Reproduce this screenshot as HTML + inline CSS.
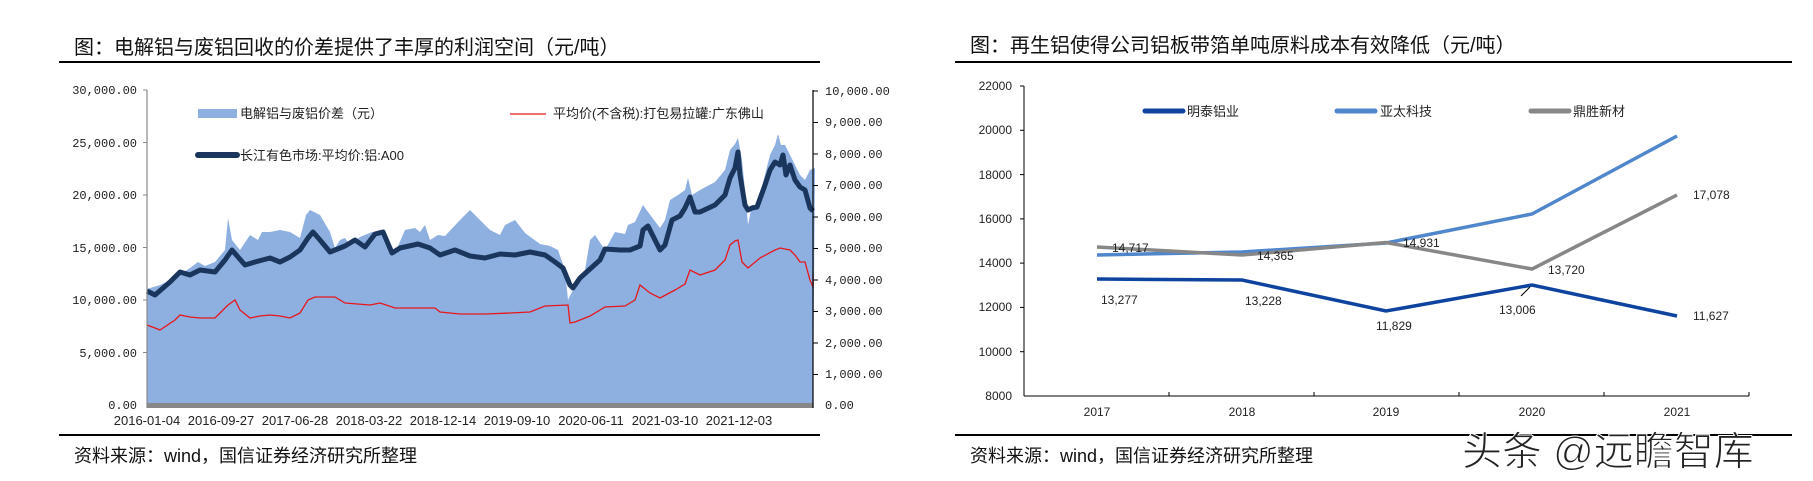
<!DOCTYPE html>
<html><head><meta charset="utf-8"><style>
html,body{margin:0;padding:0;background:#fff;width:1813px;height:481px;overflow:hidden}
svg{display:block}
.cn{font-family:"Liberation Sans","Noto Sans CJK SC",sans-serif}
.mono{font-family:"Liberation Mono","Noto Sans CJK SC",monospace}
</style></head><body>
<svg width="1813" height="481" viewBox="0 0 1813 481" xmlns="http://www.w3.org/2000/svg">
<!-- LEFT -->
<text x="74" y="54" class="cn" font-size="20" fill="#111">图：电解铝与废铝回收的价差提供了丰厚的利润空间（元/吨）</text>
<line x1="59" y1="62" x2="820" y2="62" stroke="#000" stroke-width="2"/>
<line x1="59" y1="435" x2="820" y2="435" stroke="#000" stroke-width="2"/>
<text x="74" y="462" class="cn" font-size="18" fill="#111">资料来源：wind，国信证券经济研究所整理</text>

<polygon fill="#8db0e0" points="147,405 147,289 160,285 175,278 190,268 198,262 205,266 215,262 225,250 228,218 232,240 240,250 250,235 258,240 262,232 270,232 280,230 290,232 300,238 306,215 310,210 320,215 330,232 335,248 340,240 345,238 350,245 360,237 372,232 385,232 395,253 405,230 415,228 420,232 425,225 430,240 438,235 445,236 460,220 470,210 480,220 490,230 500,235 505,225 515,220 525,233 540,244 550,246 558,250 565,270 568,300 572,292 580,275 585,270 590,240 595,235 605,250 615,232 625,234 628,225 635,222 643,205 648,212 660,228 665,220 670,200 678,195 685,190 688,178 692,195 700,190 715,182 725,170 730,150 735,144 738,138 742,160 746,200 748,225 752,205 757,205 765,175 770,155 775,145 778,134 781,145 785,145 790,155 795,165 800,175 805,180 810,170 815,168 813,405"/>
<rect x="147" y="403" width="666" height="5" fill="#888"/>
<polyline fill="none" stroke="#e8161b" stroke-width="1.3" points="147,325 155,328 160,330 175,320 180,315 190,317 200,318 215,318 220,313 228,305 235,300 240,310 250,318 260,316 270,315 280,316 290,318 300,313 308,300 315,297 335,297 345,303 370,305 380,303 395,308 435,308 440,312 460,314 485,314 510,313 530,312 545,306 568,305 570,323 575,322 590,316 605,307 625,306 635,300 640,285 650,293 660,298 675,290 685,284 690,270 700,275 715,270 725,260 730,245 735,241 738,240 742,262 748,268 760,258 775,250 780,248 790,250 795,255 800,262 805,262 810,280 813,287 813,274"/>
<polyline fill="none" stroke="#1a365d" stroke-width="5" stroke-linejoin="round" points="147,291 155,295 170,282 180,272 190,275 200,270 215,272 225,260 232,250 238,257 245,265 255,262 270,258 280,262 290,257 300,250 308,238 313,232 320,240 330,252 345,246 355,240 365,247 375,234 383,232 392,253 400,248 418,244 430,248 440,255 455,250 470,256 485,258 500,254 515,255 530,252 545,255 555,262 563,268 570,285 573,288 580,278 600,260 605,249 620,250 630,250 640,246 643,230 648,226 655,240 660,250 665,245 672,220 680,216 685,208 690,197 695,212 700,212 715,205 725,195 730,178 735,168 738,152 740,175 745,205 748,210 752,208 757,207 765,185 770,170 775,162 780,165 783,155 786,175 790,165 795,180 800,187 805,190 810,208 813,211"/>
<line x1="147" y1="90" x2="147" y2="408" stroke="#888" stroke-width="1.2"/>
<line x1="813" y1="90" x2="813" y2="408" stroke="#000" stroke-width="1.2"/>
<g class="mono" font-size="12" fill="#222" text-anchor="end">
<text x="137" y="94">30,000.00</text><text x="137" y="147">25,000.00</text><text x="137" y="199">20,000.00</text><text x="137" y="252">15,000.00</text><text x="137" y="304">10,000.00</text><text x="137" y="357">5,000.00</text><text x="137" y="409">0.00</text>
</g>
<g stroke="#888"><line x1="143" y1="90" x2="147" y2="90"/><line x1="143" y1="142.5" x2="147" y2="142.5"/><line x1="143" y1="195" x2="147" y2="195"/><line x1="143" y1="247.5" x2="147" y2="247.5"/><line x1="143" y1="300" x2="147" y2="300"/><line x1="143" y1="352.5" x2="147" y2="352.5"/></g>
<g stroke="#000"><line x1="813" y1="91" x2="818" y2="91"/><line x1="813" y1="122.5" x2="818" y2="122.5"/><line x1="813" y1="154" x2="818" y2="154"/><line x1="813" y1="185.5" x2="818" y2="185.5"/><line x1="813" y1="217" x2="818" y2="217"/><line x1="813" y1="248.5" x2="818" y2="248.5"/><line x1="813" y1="280" x2="818" y2="280"/><line x1="813" y1="311.5" x2="818" y2="311.5"/><line x1="813" y1="343" x2="818" y2="343"/><line x1="813" y1="374.5" x2="818" y2="374.5"/></g>
<g class="mono" font-size="12" fill="#222">
<text x="825" y="95">10,000.00</text><text x="825" y="126">9,000.00</text><text x="825" y="158">8,000.00</text><text x="825" y="189">7,000.00</text><text x="825" y="221">6,000.00</text><text x="825" y="252">5,000.00</text><text x="825" y="284">4,000.00</text><text x="825" y="315">3,000.00</text><text x="825" y="347">2,000.00</text><text x="825" y="378">1,000.00</text><text x="825" y="409">0.00</text>
</g>
<g class="cn" font-size="13" fill="#222" text-anchor="middle">
<text x="147" y="425">2016-01-04</text><text x="221" y="425">2016-09-27</text><text x="295" y="425">2017-06-28</text><text x="369" y="425">2018-03-22</text><text x="443" y="425">2018-12-14</text><text x="517" y="425">2019-09-10</text><text x="591" y="425">2020-06-11</text><text x="665" y="425">2021-03-10</text><text x="739" y="425">2021-12-03</text>
</g>
<rect x="198" y="109" width="39" height="9" fill="#8db0e0"/>
<text x="240" y="118" class="cn" font-size="13" fill="#222">电解铝与废铝价差（元）</text>
<line x1="510" y1="114" x2="546" y2="114" stroke="#f07070" stroke-width="2"/>
<text x="553" y="118" class="cn" font-size="13" fill="#222">平均价(不含税):打包易拉罐:广东佛山</text>
<line x1="198" y1="155" x2="237" y2="155" stroke="#1a365d" stroke-width="6" stroke-linecap="round"/>
<text x="240" y="160" class="cn" font-size="13" fill="#222">长江有色市场:平均价:铝:A00</text>

<!-- RIGHT -->
<text x="970" y="52" class="cn" font-size="20" fill="#111">图：再生铝使得公司铝板带箔单吨原料成本有效降低（元/吨）</text>
<line x1="955" y1="62" x2="1792" y2="62" stroke="#000" stroke-width="2"/>
<line x1="955" y1="435" x2="1792" y2="435" stroke="#000" stroke-width="2"/>
<text x="970" y="462" class="cn" font-size="18" fill="#111">资料来源：wind，国信证券经济研究所整理</text>
<line x1="1024" y1="86" x2="1024" y2="396" stroke="#000"/>
<line x1="1024" y1="396" x2="1749" y2="396" stroke="#000"/>
<g stroke="#000"><line x1="1020" y1="86" x2="1024" y2="86"/><line x1="1020" y1="130.3" x2="1024" y2="130.3"/><line x1="1020" y1="174.6" x2="1024" y2="174.6"/><line x1="1020" y1="218.9" x2="1024" y2="218.9"/><line x1="1020" y1="263.1" x2="1024" y2="263.1"/><line x1="1020" y1="307.4" x2="1024" y2="307.4"/><line x1="1020" y1="351.7" x2="1024" y2="351.7"/>
<line x1="1169" y1="392" x2="1169" y2="396"/><line x1="1314" y1="392" x2="1314" y2="396"/><line x1="1459" y1="392" x2="1459" y2="396"/><line x1="1604" y1="392" x2="1604" y2="396"/><line x1="1749" y1="392" x2="1749" y2="396"/></g>
<g class="cn" font-size="12" fill="#222" text-anchor="end">
<text x="1012" y="90">22000</text><text x="1012" y="134">20000</text><text x="1012" y="179">18000</text><text x="1012" y="223">16000</text><text x="1012" y="267">14000</text><text x="1012" y="311">12000</text><text x="1012" y="356">10000</text><text x="1012" y="400">8000</text>
</g>
<g class="cn" font-size="12" fill="#222" text-anchor="middle">
<text x="1097" y="416">2017</text><text x="1242" y="416">2018</text><text x="1386" y="416">2019</text><text x="1532" y="416">2020</text><text x="1677" y="416">2021</text>
</g>
<polyline fill="none" stroke="#4f86cc" stroke-width="3.5" points="1097,255 1242,252 1386,243 1532,214 1677,136"/>
<polyline fill="none" stroke="#878787" stroke-width="3.5" points="1097,247 1242,255 1386,242.5 1532,269 1677,195"/>
<polyline fill="none" stroke="#0e43a0" stroke-width="3.5" points="1097,279 1242,280 1386,311 1532,285 1677,316"/>
<line x1="1521" y1="296" x2="1530" y2="287" stroke="#000"/>
<g class="cn" font-size="12" fill="#222">
<text x="1112" y="252">14,717</text><text x="1257" y="260">14,365</text><text x="1403" y="247">14,931</text><text x="1548" y="274">13,720</text><text x="1693" y="199">17,078</text>
<text x="1101" y="304">13,277</text><text x="1245" y="305">13,228</text><text x="1376" y="330">11,829</text><text x="1499" y="314">13,006</text><text x="1693" y="320">11,627</text>
</g>
<line x1="1145" y1="111" x2="1183" y2="111" stroke="#0e43a0" stroke-width="5" stroke-linecap="round"/>
<text x="1187" y="116" class="cn" font-size="13" fill="#222">明泰铝业</text>
<line x1="1337" y1="111" x2="1375" y2="111" stroke="#4f86cc" stroke-width="5" stroke-linecap="round"/>
<text x="1380" y="116" class="cn" font-size="13" fill="#222">亚太科技</text>
<line x1="1531" y1="111" x2="1569" y2="111" stroke="#878787" stroke-width="5" stroke-linecap="round"/>
<text x="1573" y="116" class="cn" font-size="13" fill="#222">鼎胜新材</text>

<text x="1462" y="465" class="cn" font-size="40" fill="#222" stroke="#fff" stroke-width="1">头条 @远瞻智库</text>
</svg>
</body></html>
